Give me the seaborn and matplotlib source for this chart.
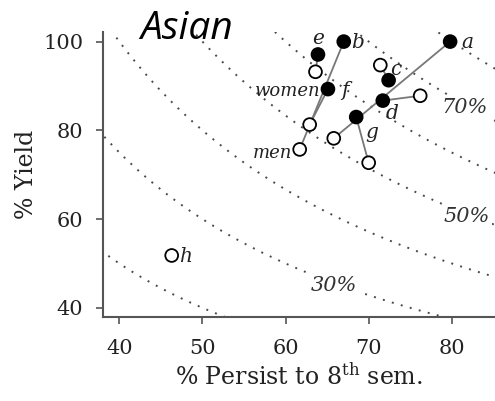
import numpy as np
import pandas as pd
import matplotlib
matplotlib.use("Agg")
import matplotlib.pyplot as plt
import seaborn as sns

# Grupos: mulheres = ponto preenchido, homens = ponto aberto
grupos = ["a", "b", "c", "d", "e", "f", "g"]
persist_mulheres = [79.8, 67.0, 72.4, 71.7, 63.9, 65.1, 68.5]
yield_mulheres = [100.0, 100.0, 91.3, 86.7, 97.1, 89.3, 83.0]
persist_homens = [65.8, 61.7, 71.4, 76.2, 63.6, 62.9, 70.0]
yield_homens = [78.2, 75.7, 94.7, 87.8, 93.2, 81.3, 72.7]

# grupo h só tem o ponto aberto
grupo_h = "h"
persist_h = [46.3]
yield_h = [51.8]

# Curvas de nível (persist x yield)
niveis = [20, 30, 40, 50, 60, 70, 80]
niveis_rotulados = [30, 50, 70]

# Montar tabela dos pontos
df = pd.DataFrame({
    "persist": persist_mulheres + persist_homens + persist_h,
    "yield": yield_mulheres + yield_homens + yield_h,
    "sexo": ["women"] * len(grupos) + ["men"] * (len(grupos) + 1),
})

sns.set_style("ticks")
plt.rcParams["font.family"] = ["DejaVu Serif"]
plt.rcParams["mathtext.fontset"] = "dejavuserif"

fig = plt.figure(figsize=(4.95, 4.01), dpi=100)
ax = fig.add_axes([0.2075, 0.2102, 0.7925, 0.7093])

# Curvas pontilhadas
x_curva = np.linspace(36, 88, 400)
for nivel in niveis:
    ax.plot(x_curva, nivel * 100 / x_curva, color="#4a4a4a", lw=1.4,
            linestyle=(0, (1, 3.8)), zorder=1)

# Rótulos das curvas (posições ao longo da curva)
pos_rotulos = {30: 65.8, 50: 81.8, 70: 81.6}
for nivel in niveis_rotulados:
    xr = pos_rotulos[nivel]
    ax.text(xr, nivel * 100 / xr - 0.6, f"{nivel}%", ha="center", va="center",
            fontsize=15, style="italic", color="#333333", zorder=2,
            bbox=dict(facecolor="white", edgecolor="none", pad=1.5))

# Linhas ligando mulheres e homens
for i in range(len(grupos)):
    ax.plot([persist_mulheres[i], persist_homens[i]],
            [yield_mulheres[i], yield_homens[i]],
            color="#777777", lw=1.3, zorder=3)

sns.scatterplot(data=df, x="persist", y="yield", hue="sexo",
                palette={"women": "black", "men": "white"},
                edgecolor="black", linewidth=1.3, s=85, legend=False,
                ax=ax, zorder=4)

# Rótulos dos grupos
pos_letras = {
    "a": (81.9, 99.8), "b": (68.7, 99.7), "c": (73.3, 93.8),
    "d": (72.8, 83.9), "e": (63.9, 100.6), "f": (67.1, 89.0),
    "g": (70.4, 79.5), "h": (48.0, 51.5),
}
for letra, (xl, yl) in pos_letras.items():
    ax.text(xl, yl, letra, ha="center", va="center", fontsize=14.5,
            style="italic", color="#222222", zorder=5)

ax.text(64.2, 88.9, "women", ha="right", va="center", fontsize=13,
        style="italic", color="#222222", zorder=5)
ax.text(60.8, 75.0, "men", ha="right", va="center", fontsize=13,
        style="italic", color="#222222", zorder=5)

# Eixos
ax.set_xlim(38.0, 85.2)
ax.set_ylim(38.0, 102.1)
ax.set_xticks([40, 50, 60, 70, 80])
ax.set_yticks([40, 60, 80, 100])
ax.tick_params(axis="both", labelsize=15, length=5, width=1.2,
               color="#555555", labelcolor="#222222")
ax.tick_params(axis="y", pad=9)
ax.tick_params(axis="x", pad=11)
for lado in ["left", "bottom"]:
    ax.spines[lado].set_color("#555555")
    ax.spines[lado].set_linewidth(1.5)
sns.despine(ax=ax)

ax.set_xlabel("% Persist to 8$^{\\rm th}$ sem.", fontsize=17, color="#222222",
              labelpad=4)
ax.set_ylabel("% Yield", fontsize=17, color="#222222", labelpad=4)

fig.text(0.376, 1 - 39 / 401, "Asian", fontsize=28, style="italic",
         family="Open Sans", ha="center", va="baseline", color="black")

fig.savefig("out.png", dpi=100)
